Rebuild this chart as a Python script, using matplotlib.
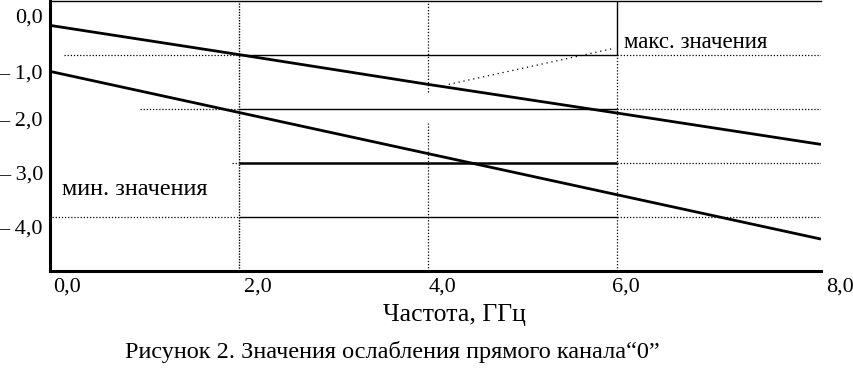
import matplotlib
matplotlib.use("Agg")
import matplotlib.pyplot as plt
import matplotlib.transforms as mtransforms

# ---- data ----
freq = [0.0, 2.0, 4.0, 6.0, 8.16]
upper = [-0.46, -1.00, -1.55, -2.08, -2.66]
lower = [-1.31, -2.07, -2.83, -3.59, -4.41]

x_ticks = [0, 2, 4, 6, 8]
x_tick_labels = ["0,0", "2,0", "4,0", "6,0", "8,0"]
y_ticks = [0, -1, -2, -3, -4]
y_tick_labels = ["0,0", "\u2013 1,0", "\u2013 2,0", "\u2013 3,0", "\u2013 4,0"]

x_label = "Частота, ГГц"
caption = "Рисунок 2. Значения ослабления прямого канала\u201c0\u201d"
max_label = "макс. значения"
min_label = "мин. значения"

plt.rcParams['font.family'] = ['Liberation Serif', 'DejaVu Serif']

fig = plt.figure(figsize=(8.54, 3.75), dpi=100)
W, H = 854, 375
ax = fig.add_axes([50 / W, (H - 271) / H, (821 - 50) / W, 270.5 / H])
ax.set_xlim(0, 8.16)
ax.set_ylim(-5, 0)

# grid segments (partly solid, partly dotted, as in the scanned figure)
xmax = 8.16
dot = dict(color="black", lw=0.9, ls=(0, (1, 1.5)))
sol = dict(color="black", lw=1.0, ls="-")
# horizontal
ax.hlines(-1, 0.15, 2, **dot); ax.hlines(-1, 2, 6, **sol); ax.hlines(-1, 6, xmax, **dot)
ax.hlines(-2, 0.95, 2, **dot); ax.hlines(-2, 2, 6, **sol); ax.hlines(-2, 6, xmax, **dot)
ax.hlines(-3, 1.93, 2, **dot); ax.hlines(-3, 2, 6, color="black", lw=1.8); ax.hlines(-3, 6, xmax, **dot)
ax.hlines(-4, 0.02, 2, **dot); ax.hlines(-4, 2, 6, **sol); ax.hlines(-4, 6, xmax, **dot)
# vertical
ax.vlines(2, -5, 0, color="black", lw=1.0, ls=(0, (1, 1)))
ax.vlines(4, -1.7, 0, **dot); ax.vlines(4, -5, -2.27, **dot)
ax.vlines(6, -1, 0, **sol); ax.vlines(6, -5, -1, **dot)

# main lines
ax.plot(freq, upper, color="black", lw=2.0, solid_capstyle="butt")
ax.plot(freq, lower, color="black", lw=2.0, solid_capstyle="butt")

# annotations
ax.plot([4.22, 5.98], [-1.55, -0.88], color="black", lw=0.9, ls=(0, (1, 3)))
ax.text(6.07, -0.77, max_label, fontsize=16.5, ha="left", va="center")
ax.text(0.13, -3.5, min_label, fontsize=17.5, ha="left", va="center")

# spines
ax.spines["right"].set_visible(False)
ax.spines["top"].set_linewidth(1.0)
ax.spines["left"].set_linewidth(2.2)
ax.spines["bottom"].set_linewidth(2.2)

ax.set_xticks(x_ticks)
ax.set_xticklabels(x_tick_labels, fontsize=16)
ax.set_yticks(y_ticks)
ax.set_yticklabels(y_tick_labels, fontsize=16)
ax.tick_params(axis="x", length=0, pad=5)
ax.tick_params(axis="y", length=0, pad=5)

x_off = [17, 19, 15, 9, 34]
for lab, dx in zip(ax.get_xticklabels(), x_off):
    lab.set_transform(lab.get_transform() + mtransforms.ScaledTranslation(dx / 100, 0, fig.dpi_scale_trans))
y_off = [15, 17, 10, 10, 10]
for lab, dy in zip(ax.get_yticklabels(), y_off):
    lab.set_transform(lab.get_transform() + mtransforms.ScaledTranslation(0, -dy / 100, fig.dpi_scale_trans))

fig.text(454 / W, 1 - 315 / H, x_label, fontsize=18.5, ha="center", va="center")
fig.text(392 / W, 1 - 352 / H, caption, fontsize=17.5, ha="center", va="center")

fig.savefig("out.png", dpi=100)
